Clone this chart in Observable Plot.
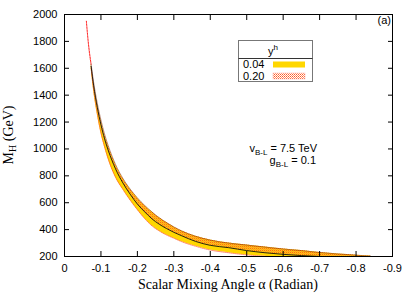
<!DOCTYPE html>
<html><head><meta charset="utf-8">
<script src="https://cdn.jsdelivr.net/npm/d3@7"></script>
<script src="https://cdn.jsdelivr.net/npm/@observablehq/plot@0.6"></script>
<style>body{margin:0;background:#fff} svg{display:block}</style>
</head><body><div id="chart"></div>
<script>
// mixing angle alpha (radian)
const alpha = [-0.06,-0.065,-0.073,-0.08,-0.09,-0.10,-0.11,-0.12,-0.14,-0.16,-0.18,-0.20,-0.22,-0.24,-0.26,-0.28,-0.30,-0.32,-0.36,-0.40,-0.45,-0.50,-0.55,-0.60,-0.65,-0.70,-0.75,-0.80,-0.84];
// upper edge of allowed band (GeV)
const upper = [1950,1800,1630,1495,1340,1215,1110,1025,885,782,702,636,580,531,488,452,420,392,350,322,300,285,270,256,244,230,219,210,203];
// boundary between the y^h = 0.20 region and the y^h = 0.04 region
const mid = [1950,1795,1615,1470,1310,1180,1075,990,852,748,664,590,532,480,440,408,380,356,312,283,266,244,228,216,207,200,195,192,190];
// lower edge of the y^h = 0.04 band
const lower = [null,null,1600,1435,1260,1120,1015,925,790,700,620,548,482,428,390,360,336,312,276,248,228,212,202,195,190,185,180,176,173];
const xTicks = [0,-0.1,-0.2,-0.3,-0.4,-0.5,-0.6,-0.7,-0.8,-0.9];
const yTicks = [200,400,600,800,1000,1200,1400,1600,1800,2000];
const legendTitle = "y";
const legendSup = "h";
const legendLabels = ["0.04","0.20"];
const legendFills = ["#ffd700","url(#hatch)"];

const rows = alpha.map((a,i)=>({a, u: upper[i], m: mid[i], l: lower[i]}));
const withLower = rows.filter(d => d.l != null);
const topPart = rows.filter(d => d.a >= -0.073);
const fmtX = d => d === 0 ? "0" : d3.format(".1f")(d).replace("\u2212","-");
const none = () => "";

const plot = Plot.plot({
  width: 420, height: 294,
  marginLeft: 64, marginRight: 28, marginTop: 14, marginBottom: 38,
  style: {fontFamily: "'Liberation Sans', Arial, sans-serif", fontSize: "11px", color: "black", background: "white"},
  x: {domain: [0, -0.9], label: null},
  y: {domain: [200, 2000], label: null},
  marks: [
    Plot.areaY(withLower, {x: "a", y1: "l", y2: "u", fill: "#ffd700", clip: true, curve: "monotone-x"}),
    Plot.areaY(rows, {x: "a", y1: "m", y2: "u", fill: "url(#hatch)", clip: true, curve: "monotone-x"}),
    Plot.lineY(withLower, {x: "a", y: "l", stroke: "#ff4a2a", strokeWidth: 0.7, strokeDasharray: "1,1", clip: true, curve: "monotone-x"}),
    Plot.lineY(topPart, {x: "a", y: "u", stroke: "#ff2020", strokeWidth: 1, strokeDasharray: "2,1", clip: true, curve: "monotone-x"}),
    Plot.lineY(withLower, {x: "a", y: "u", stroke: "#7a2400", strokeWidth: 0.5, clip: true, curve: "monotone-x"}),
    Plot.lineY(withLower, {x: "a", y: "m", stroke: "#111", strokeWidth: 0.9, clip: true, curve: "monotone-x"}),
    Plot.frame({stroke: "black"}),
    Plot.axisX({ticks: xTicks, tickFormat: fmtX, tickSize: 0, tickPadding: 8, label: null}),
    Plot.axisX({ticks: xTicks, tickFormat: none, tickSize: 5, dy: -5, label: null}),
    Plot.axisX({anchor: "top", ticks: xTicks, tickFormat: none, tickSize: 5, dy: 5, label: null}),
    Plot.axisY({ticks: yTicks, tickFormat: d => String(d), tickSize: 0, tickPadding: 7, label: null}),
    Plot.axisY({ticks: yTicks, tickFormat: none, tickSize: 5, dx: 5, label: null}),
    Plot.axisY({anchor: "right", ticks: yTicks, tickFormat: none, tickSize: 5, dx: -5, label: null})
  ]
});
document.getElementById("chart").appendChild(plot);
const svgEl = plot.tagName.toLowerCase() === "svg" ? plot : plot.querySelector("svg");
const svg = d3.select(svgEl);

// hatch pattern (checker of red dots)
const defs = svg.insert("defs", ":first-child");
const pat = defs.append("pattern").attr("id", "hatch").attr("patternUnits", "userSpaceOnUse").attr("width", 2).attr("height", 2);
pat.append("rect").attr("x", 0).attr("y", 0).attr("width", 1).attr("height", 1).attr("fill", "#ff5a28");
pat.append("rect").attr("x", 1).attr("y", 1).attr("width", 1).attr("height", 1).attr("fill", "#ff7a40").attr("fill-opacity", 0.8);

const serif = "'Liberation Serif', 'Times New Roman', serif";
const sans = "'Liberation Sans', Arial, sans-serif";

// axis titles
svg.append("text").attr("x", 228).attr("y", 289).attr("text-anchor", "middle")
  .attr("font-family", serif).attr("font-size", 14).text("Scalar Mixing Angle \u03b1 (Radian)");
const yt = svg.append("text").attr("transform", "translate(13,135) rotate(-90)").attr("text-anchor", "middle")
  .attr("font-family", serif).attr("font-size", 14);
yt.append("tspan").text("M");
yt.append("tspan").attr("font-size", 10).attr("dy", 3).text("H");
yt.append("tspan").attr("dy", -3).text(" (GeV)");

// panel tag
svg.append("text").attr("x", 391).attr("y", 24).attr("text-anchor", "end")
  .attr("font-family", sans).attr("font-size", 11).text("(a)");

// parameter annotations
function subText(x, y, main, sub, rest) {
  const t = svg.append("text").attr("x", x).attr("y", y).attr("text-anchor", "end")
    .attr("font-family", sans).attr("font-size", 11);
  t.append("tspan").text(main);
  t.append("tspan").attr("font-size", 8).attr("dy", 3).text(sub);
  t.append("tspan").attr("dy", -3).text(rest);
}
subText(317, 152, "v", "B-L", " = 7.5 TeV");
subText(316, 164, "g", "B-L", " = 0.1");

// legend box
const lg = svg.append("g").attr("font-family", sans).attr("font-size", 11);
lg.append("rect").attr("x", 238.5).attr("y", 40.5).attr("width", 74).attr("height", 41)
  .attr("fill", "white").attr("stroke", "#777");
lg.append("line").attr("x1", 238.5).attr("x2", 312.5).attr("y1", 58.5).attr("y2", 58.5).attr("stroke", "#333");
const lt = lg.append("text").attr("x", 273).attr("y", 55).attr("text-anchor", "middle");
lt.append("tspan").text(legendTitle);
lt.append("tspan").attr("font-size", 8).attr("dy", -5).text(legendSup);
legendLabels.forEach((lab, i) => {
  const y = 68 + i * 11.5;
  lg.append("text").attr("x", 243).attr("y", y).attr("text-anchor", "start").text(lab);
  lg.append("rect").attr("x", 273).attr("y", y - 6.5).attr("width", 32).attr("height", 6)
    .attr("fill", legendFills[i]).attr("stroke", i === 1 ? "#ffb0a8" : "none").attr("stroke-width", 0.5);
});
</script>
</body></html>
